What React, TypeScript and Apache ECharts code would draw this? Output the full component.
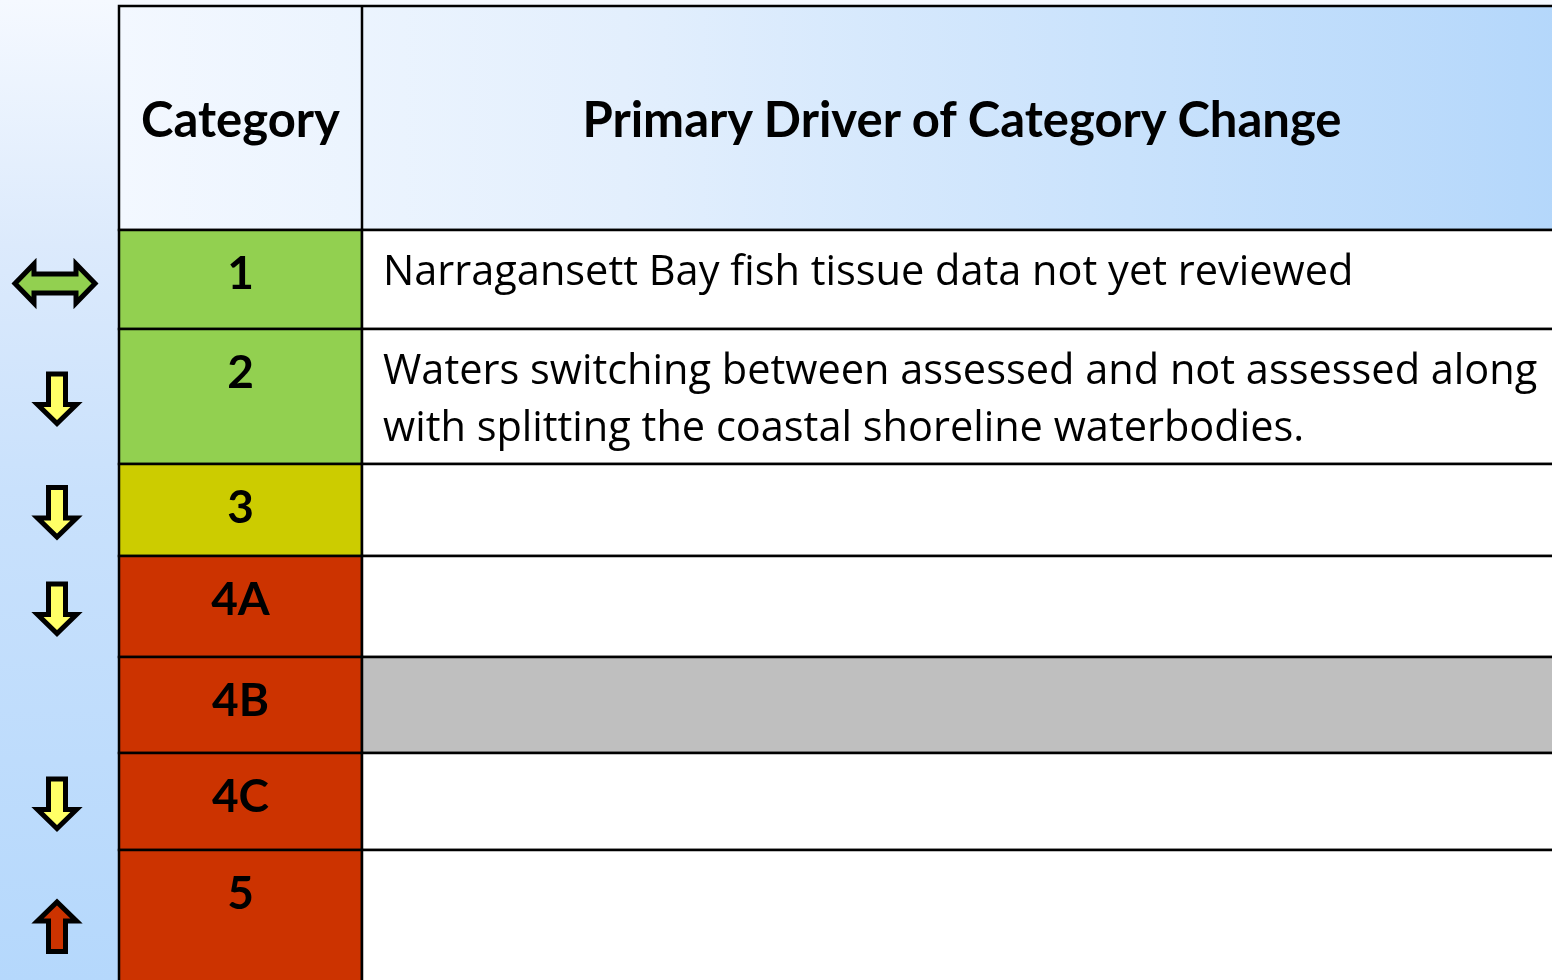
import React, { useEffect, useRef } from "react";
import * as echarts from "echarts";

// ---- data ----
const headers = ["Category", "Primary Driver of Category Change"];
const categories = ["1", "2", "3", "4A", "4B", "4C", "5"];
const drivers = [
  "Narragansett Bay fish tissue data not yet reviewed",
  "Waters switching between assessed and not assessed along with splitting the coastal shoreline waterbodies.",
  "",
  "",
  "",
  "",
  "",
];
const trends = ["both", "down", "down", "down", "none", "down", "up"];

// ---- styles / layout ----
const categoryColors = ["#92d050", "#92d050", "#cccc00", "#cc3300", "#cc3300", "#cc3300", "#cc3300"];
const driverColors = ["#ffffff", "#ffffff", "#ffffff", "#ffffff", "#bfbfbf", "#ffffff", "#ffffff"];
const trendColors: Record<string, string> = { both: "#92d050", down: "#ffff66", up: "#cc3300", none: "transparent" };
const W = 1552;
const H = 980;
const TABLE_LEFT = 119;
const COL_DIV = 362;
const TABLE_RIGHT = 1562;
const TABLE_TOP = 6;
const HEADER_BOTTOM = 230;
const ROW_BOUNDS = [230, 329, 464, 556, 657, 753, 850, 1000];
const HEAD_FONT = "Lato, 'Open Sans', sans-serif";
const BODY_FONT = "'Open Sans', Lato, sans-serif";
const LINE_W = 2.5;

function arrowPoints(kind: string, cx: number, cy: number): number[][] {
  if (kind === "down") {
    return [
      [cx - 8.5, cy - 24.5], [cx + 8.5, cy - 24.5], [cx + 8.5, cy + 6], [cx + 19.5, cy + 6],
      [cx, cy + 25], [cx - 19.5, cy + 6], [cx - 8.5, cy + 6],
    ];
  }
  if (kind === "up") {
    return [
      [cx - 8.5, cy + 24.5], [cx + 8.5, cy + 24.5], [cx + 8.5, cy - 6], [cx + 19.5, cy - 6],
      [cx, cy - 25], [cx - 19.5, cy - 6], [cx - 8.5, cy - 6],
    ];
  }
  // both (horizontal double arrow)
  return [
    [cx - 40, cy], [cx - 21, cy - 19.5], [cx - 21, cy - 9.5], [cx + 21, cy - 9.5], [cx + 21, cy - 19.5],
    [cx + 40, cy], [cx + 21, cy + 19.5], [cx + 21, cy + 9.5], [cx - 21, cy + 9.5], [cx - 21, cy + 19.5],
  ];
}

export default function App() {
  const ref = useRef<HTMLDivElement>(null);
  useEffect(() => {
    if (!ref.current) return;
    const chart = echarts.init(ref.current, undefined, { renderer: "svg" });
    const rows = categories.map((c, i) => [i]);
    chart.setOption({
      animation: false,
      grid: { left: 0, right: 0, top: 0, bottom: 0 },
      xAxis: { type: "value", min: 0, max: W, show: false },
      yAxis: { type: "value", min: 0, max: H, inverse: true, show: false },
      graphic: [
        {
          type: "rect",
          z: -10,
          silent: true,
          shape: { x: 0, y: 0, width: W, height: H },
          style: {
            fill: new echarts.graphic.LinearGradient(0, 0, 0, 1, [
              { offset: 0, color: "#f5f9ff" },
              { offset: 0.25, color: "#dceafc" },
              { offset: 0.5, color: "#c9e1fc" },
              { offset: 1, color: "#b5d8fc" },
            ]),
          },
        },
      ],
      series: [
        {
          type: "custom",
          coordinateSystem: "cartesian2d",
          data: [[0]],
          silent: true,
          renderItem: (params: any, api: any) => {
            const tl = api.coord([TABLE_LEFT, TABLE_TOP]);
            const br = api.coord([TABLE_RIGHT, HEADER_BOTTOM]);
            const div = api.coord([COL_DIV, TABLE_TOP]);
            const grad = new echarts.graphic.LinearGradient(0, 0, 1, 0, [
              { offset: 0, color: "#f3f8ff" },
              { offset: 0.35, color: "#e3effd" },
              { offset: 0.7, color: "#c9e2fc" },
              { offset: 1, color: "#b4d7fb" },
            ]);
            const midY = (tl[1] + br[1]) / 2;
            return {
              type: "group",
              children: [
                {
                  type: "rect",
                  shape: { x: tl[0], y: tl[1], width: br[0] - tl[0], height: br[1] - tl[1] },
                  style: { fill: grad, stroke: "#000", lineWidth: LINE_W },
                },
                {
                  type: "line",
                  shape: { x1: div[0], y1: tl[1], x2: div[0], y2: br[1] },
                  style: { stroke: "#000", lineWidth: LINE_W },
                },
                {
                  type: "text",
                  style: {
                    text: headers[0], x: (tl[0] + div[0]) / 2, y: midY,
                    align: "center", verticalAlign: "middle",
                    fontFamily: HEAD_FONT, fontWeight: "bold", fontSize: 49, fill: "#000",
                  },
                },
                {
                  type: "text",
                  style: {
                    text: headers[1], x: (div[0] + br[0]) / 2, y: midY,
                    align: "center", verticalAlign: "middle",
                    fontFamily: HEAD_FONT, fontWeight: "bold", fontSize: 49, fill: "#000",
                  },
                },
              ],
            };
          },
        },
        {
          type: "custom",
          coordinateSystem: "cartesian2d",
          data: rows,
          silent: true,
          renderItem: (params: any, api: any) => {
            const i = api.value(0);
            const top = api.coord([TABLE_LEFT, ROW_BOUNDS[i]]);
            const bot = api.coord([TABLE_RIGHT, ROW_BOUNDS[i + 1]]);
            const div = api.coord([COL_DIV, ROW_BOUNDS[i]]);
            const h = bot[1] - top[1];
            const children: any[] = [
              {
                type: "rect",
                shape: { x: top[0], y: top[1], width: div[0] - top[0], height: h },
                style: { fill: categoryColors[i], stroke: "#000", lineWidth: LINE_W },
              },
              {
                type: "rect",
                shape: { x: div[0], y: top[1], width: bot[0] - div[0], height: h },
                style: { fill: driverColors[i], stroke: "#000", lineWidth: LINE_W },
              },
              {
                type: "text",
                style: {
                  text: categories[i], x: (top[0] + div[0]) / 2, y: top[1] + 41,
                  align: "center", verticalAlign: "middle",
                  fontFamily: HEAD_FONT, fontWeight: "bold", fontSize: 46, fill: "#000",
                },
              },
            ];
            if (drivers[i]) {
              children.push({
                type: "text",
                style: {
                  text: drivers[i], x: div[0] + 21, y: top[1] + 10,
                  align: "left", verticalAlign: "top",
                  width: 1175, overflow: "break", lineHeight: 57,
                  fontFamily: BODY_FONT, fontWeight: "normal", fontSize: 41.5, fill: "#000",
                },
              });
            }
            const kind = trends[i];
            if (kind !== "none") {
              const c = api.coord([57, (ROW_BOUNDS[i] + ROW_BOUNDS[i + 1]) / 2]);
              const cy = kind === "both" ? c[1] + 4 : c[1] + 2;
              children.push({
                type: "polygon",
                shape: { points: arrowPoints(kind, kind === "both" ? 55 : c[0], cy) },
                style: { fill: trendColors[kind], stroke: "#000", lineWidth: 5, lineJoin: "miter" },
              });
            }
            return { type: "group", children };
          },
        },
      ],
    });
    return () => chart.dispose();
  }, []);
  return (
    <div
      ref={ref}
      style={{ position: "fixed", left: 0, top: 0, width: W, height: H, overflow: "hidden" }}
    />
  );
}
